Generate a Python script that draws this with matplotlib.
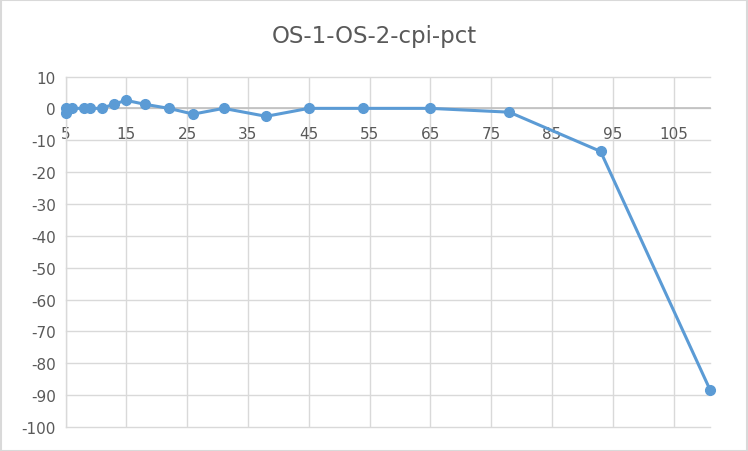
import matplotlib
matplotlib.use('Agg')
import matplotlib.pyplot as plt
import numpy as np

# values
x_vals = [5, 5, 6, 8, 9, 11, 13, 15, 18, 22, 26, 31, 38, 45, 54, 65, 78, 93, 111]
y_vals = [0, -1.3, 0, 0, 0, 0, 1.4, 2.5, 1.3, 0, -1.8, 0, -2.5, 0, 0, 0, -1.2, -13.5, -88.3]
x_ticks = list(range(5, 106, 10))
y_ticks = list(range(-100, 11, 10))
title = 'OS-1-OS-2-cpi-pct'

blue = '#5B9BD5'
txt = '#595959'
grid = '#d9d9d9'

plt.rcParams['axes.unicode_minus'] = False


def main():
	fig = plt.figure(figsize=(7.48, 4.52), dpi=100)
	ax = fig.add_axes([65.5 / 748, 1 - 428 / 452, (710 - 65.5) / 748, (428 - 77.5) / 452])

	ax.plot(x_vals, y_vals, color=blue, linewidth=2.2, marker='o', markersize=7,
			markerfacecolor=blue, markeredgecolor=blue, clip_on=False, zorder=5)

	ax.set_xlim(5, 111)
	ax.set_ylim(-100, 10)
	ax.set_xticks(x_ticks)
	ax.set_yticks(y_ticks)
	ax.grid(True, color=grid, linewidth=1.0)
	ax.set_axisbelow(True)
	for gl in ax.get_ygridlines() + ax.get_xgridlines():
		gl.set_clip_on(False)

	for s in ['top', 'right']:
		ax.spines[s].set_visible(False)
	ax.spines['left'].set_color(grid)
	ax.spines['left'].set_linewidth(1.0)
	ax.spines['bottom'].set_position(('data', 0))
	ax.spines['bottom'].set_color('#bfbfbf')
	ax.spines['bottom'].set_linewidth(1.2)

	ax.tick_params(axis='x', length=0, pad=13, labelsize=11, labelcolor=txt)
	ax.tick_params(axis='y', length=0, pad=7, labelsize=11, labelcolor=txt)

	fig.text(0.5, 1 - 36 / 452, title, ha='center', va='center', fontsize=16.5, color=txt)

	# chart area border
	fig.patches.append(plt.Rectangle((0.001, 0.001), 0.997, 0.997, transform=fig.transFigure,
									 fill=False, edgecolor=grid, linewidth=1.5))

	fig.savefig('out.png', dpi=100)


if __name__ == '__main__':
	main()
